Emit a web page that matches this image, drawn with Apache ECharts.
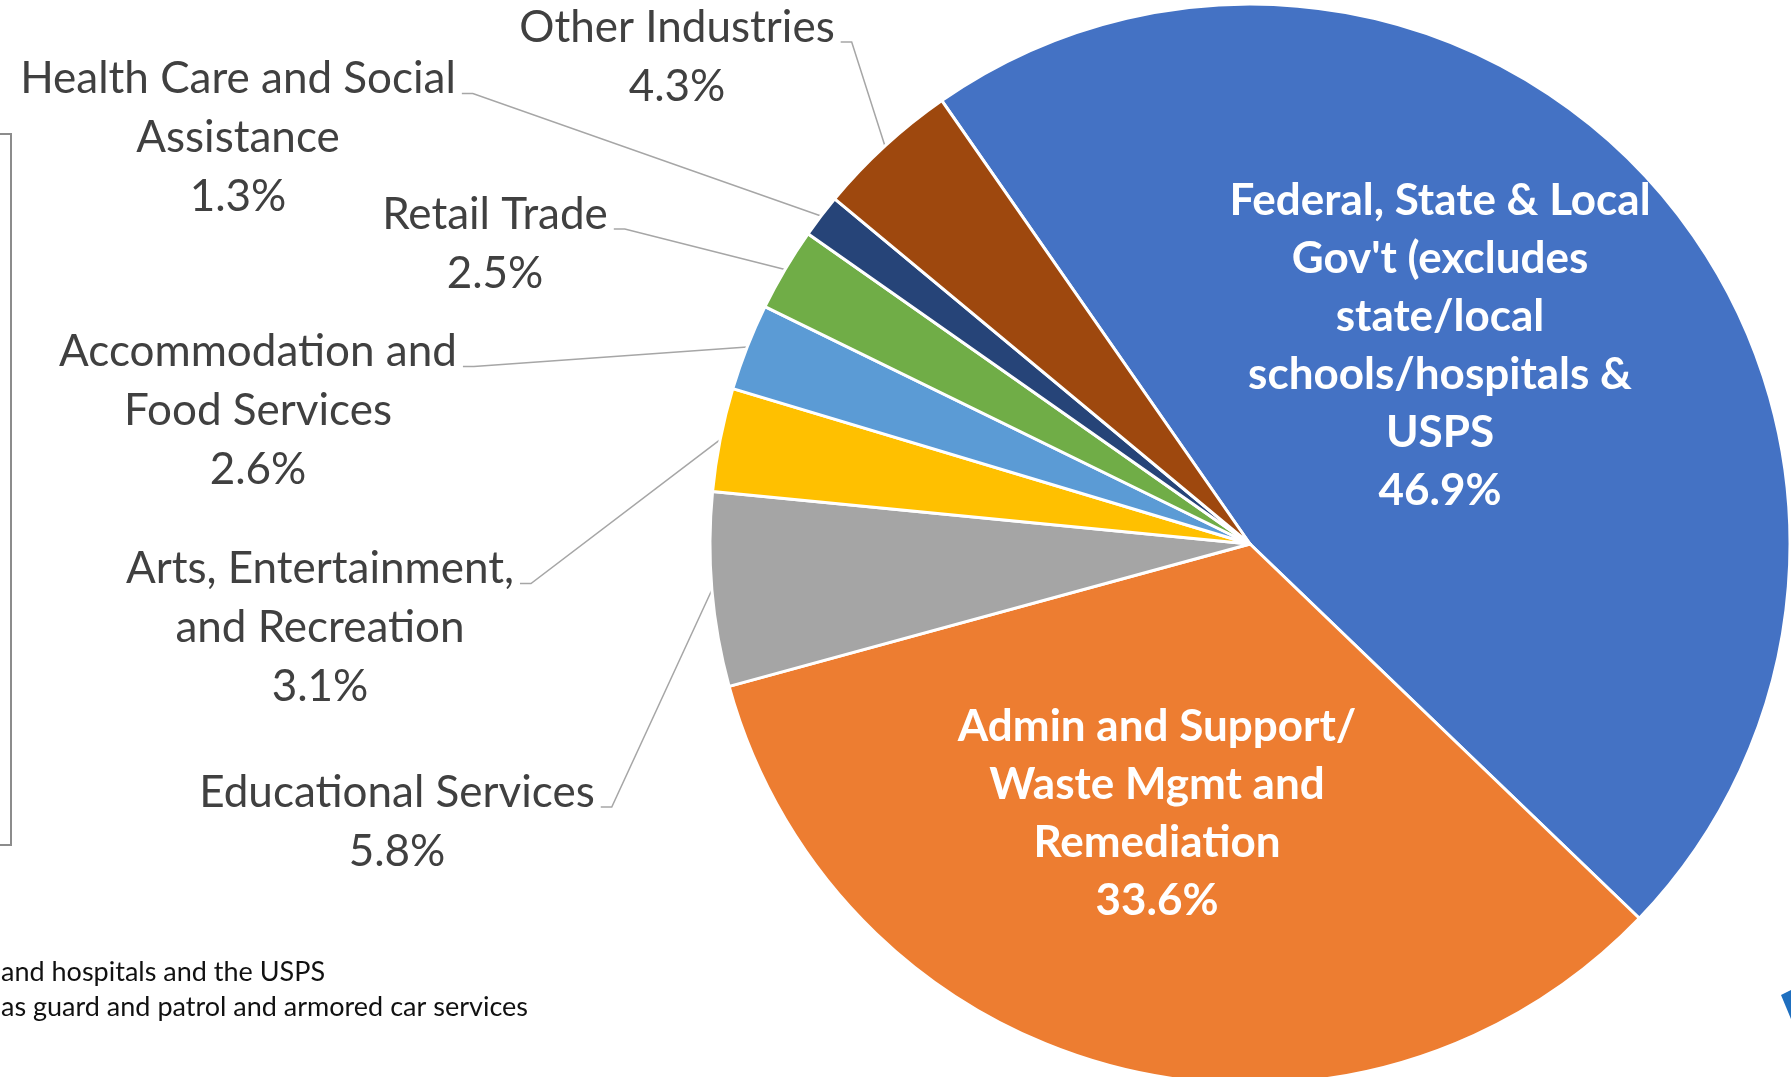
<!DOCTYPE html>
<html>
<head>
<meta charset="utf-8">
<title>Employment by industry</title>
<script src="https://cdn.jsdelivr.net/npm/echarts@6/dist/echarts.min.js"></script>
<style>
  html, body { margin: 0; padding: 0; background: #fff; }
  #chart { width: 1791px; height: 1077px; }
</style>
</head>
<body>
<div id="chart"></div>
<script>
// slices in clockwise order, starting at the upper-left edge of the blue slice
const categories = [
  "Federal, State & Local\nGov't (excludes\nstate/local\nschools/hospitals &\nUSPS",
  'Admin and Support/\nWaste Mgmt and\nRemediation',
  'Educational Services',
  'Arts, Entertainment,\nand Recreation',
  'Accommodation and\nFood Services',
  'Retail Trade',
  'Health Care and Social\nAssistance',
  'Other Industries'
];
const shares = [46.9, 33.6, 5.8, 3.1, 2.6, 2.5, 1.3, 4.3];
const sliceColors = ['#4472C4', '#ED7D31', '#A5A5A5', '#FFC000', '#5B9BD5', '#70AD47', '#264478', '#9E480E'];
const insideLabel = [true, true, false, false, false, false, false, false];
const footnotes = ['and hospitals and the USPS', 'as guard and patrol and armored car services'];

// where each label block is centred (layout only)
const labelPos = [[1440, 346], [1157, 814], [397, 822], [320, 628], [258, 411], [495, 244], [238, 138], [677, 57]];

const FONT = 'Lato, "Open Sans", sans-serif';

const chart = echarts.init(document.getElementById('chart'));

chart.setOption({
  backgroundColor: '#fff',
  animation: false,
  graphic: [
    // edge of a text box that is cut off on the left
    {
      type: 'rect',
      shape: { x: -200, y: 134, width: 211, height: 711 },
      style: { fill: 'none', stroke: '#8c8c8c', lineWidth: 2 }
    },
    {
      type: 'text',
      left: 1,
      top: 955,
      style: { text: footnotes.join('\n'), font: '27px ' + FONT, lineHeight: 35, fill: '#111' }
    },
    // corner of a logo
    {
      type: 'polygon',
      shape: { points: [[1781, 995], [1791, 990], [1791, 1019]] },
      style: { fill: '#1f6fbf' }
    }
  ],
  series: [{
    type: 'pie',
    center: [1250, 544],
    radius: [0, 540],
    startAngle: 124.8,
    clockwise: true,
    avoidLabelOverlap: false,
    silent: true,
    itemStyle: { borderColor: '#fff', borderWidth: 3 },
    label: {
      show: true,
      position: 'outside',
      formatter: '{b}\n{c}%',
      fontFamily: FONT,
      fontSize: 44,
      lineHeight: 59,
      color: '#404040'
    },
    labelLine: {
      show: true,
      length: 20,
      length2: 10,
      lineStyle: { color: '#A6A6A6', width: 1.5 }
    },
    labelLayout: function (params) {
      const i = params.dataIndex;
      const cx = labelPos[i][0], cy = labelPos[i][1];
      const out = { x: cx, y: cy, align: 'center', verticalAlign: 'middle' };
      if (!insideLabel[i] && params.labelLinePoints) {
        const w = params.labelRect.width, h = params.labelRect.height;
        const endX = cx + w / 2 + 6;
        const endY = cy - h / 2 + 44;
        out.labelLinePoints = [params.labelLinePoints[0], [endX + 11, endY], [endX, endY]];
      }
      return out;
    },
    data: categories.map(function (name, i) {
      const item = { name: name, value: shares[i], itemStyle: { color: sliceColors[i] } };
      if (insideLabel[i]) {
        item.label = { position: 'inside', color: '#fff', fontWeight: 'bold', fontSize: 44, lineHeight: 58 };
        item.labelLine = { show: false };
      }
      return item;
    })
  }]
});
</script>
</body>
</html>
